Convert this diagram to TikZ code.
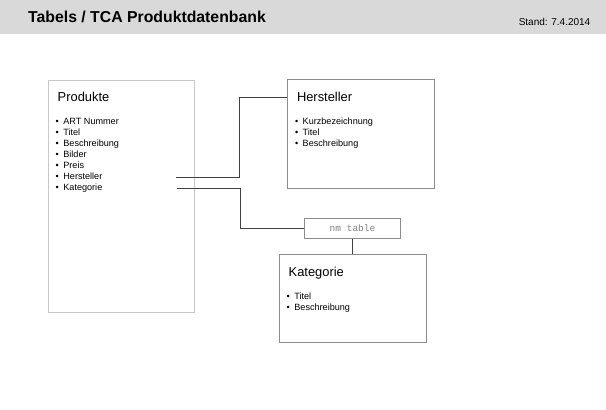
\documentclass[tikz,border=0pt]{standalone}
\usepackage{fontspec}
\setmainfont{Liberation Sans}
\setmonofont{Liberation Mono}
\usetikzlibrary{positioning}
\definecolor{headgray}{RGB}{217,217,217}
\definecolor{lightframe}{RGB}{200,200,200}
\definecolor{darkframe}{RGB}{140,140,140}
\definecolor{linegray}{RGB}{64,64,64}
\newcommand{\itm}[1]{\textbullet\hspace{4.5pt}#1}
\begin{document}
\begin{tikzpicture}[x=1pt,y=-1pt,
    tbl/.style={draw=#1, line width=0.8pt, anchor=north west, inner sep=0pt},
    tbltitle/.style={anchor=base west, inner sep=0pt, font=\fontsize{12.9}{14}\selectfont},
    tblitem/.style={anchor=base west, inner sep=0pt, font=\fontsize{9.1}{11}\selectfont},
    link/.style={draw=linegray, line width=0.8pt}]
            \useasboundingbox (0,0) rectangle (606,410);
            \fill[headgray] (0,0) rectangle (606,34.3);
            \node[anchor=base west, inner sep=0pt, font=\fontsize{15.8}{18}\selectfont\bfseries] (head) at (28,22.7) {Tabels / TCA Produktdatenbank};
            \node[anchor=base east, inner sep=0pt, font=\fontsize{10}{12}\selectfont] (stand) at (590.5,25) {Stand: 7.4.2014};

            % Produkte
            \node[tbl=lightframe, minimum width=146pt, minimum height=232.6pt] (prod) at (48,79.7) {};
            \node[tbltitle] (prodT) at (57.5,101.7) {Produkte};
            \node[tblitem] (prod1) at (55.5,124.5) {\itm{ART Nummer}};
            \node[tblitem] (prod2) at (55.5,135.4) {\itm{Titel}};
            \node[tblitem] (prod3) at (55.5,146.3) {\itm{Beschreibung}};
            \node[tblitem] (prod4) at (55.5,157.3) {\itm{Bilder}};
            \node[tblitem] (prod5) at (55.5,168.2) {\itm{Preis}};
            \node[tblitem] (prod6) at (55.5,179.1) {\itm{Hersteller}};
            \node[tblitem] (prod7) at (55.5,190) {\itm{Kategorie}};

            % Hersteller
            \node[tbl=darkframe, minimum width=146.4pt, minimum height=109pt] (hst) at (287.3,79.3) {};
            \node[tbltitle] (hstT) at (296.8,101.7) {Hersteller};
            \node[tblitem] (hst1) at (294.8,124.5) {\itm{Kurzbezeichnung}};
            \node[tblitem] (hst2) at (294.8,135.4) {\itm{Titel}};
            \node[tblitem] (hst3) at (294.8,146.3) {\itm{Beschreibung}};

            % nm table
            \node[tbl=darkframe, minimum width=96.3pt, minimum height=20.3pt] (nm) at (304,217.7) {};
            \node[inner sep=0pt, text=gray, font=\fontsize{9.5}{11}\selectfont\ttfamily] (nmT) at (nm.center) {nm table};

            % Kategorie
            \node[tbl=darkframe, minimum width=147pt, minimum height=87.4pt] (kat) at (279,254.3) {};
            \node[tbltitle] (katT) at (288.5,276.3) {Kategorie};
            \node[tblitem] (kat1) at (286.5,299.1) {\itm{Titel}};
            \node[tblitem] (kat2) at (286.5,310) {\itm{Beschreibung}};

            \coordinate (hstOut) at (176,177.5);
            \coordinate (katOut) at (177,188.3);

            \draw[link] (hstOut) -- (239.3,177.5) |- ([yshift=-18.4pt]hst.north west);
            \draw[link] (katOut) -- (240.7,188.3) |- (nm.west);
            \draw[link] (nm.south) -- (nm.south |- kat.north);
        \end{tikzpicture}
\end{document}
